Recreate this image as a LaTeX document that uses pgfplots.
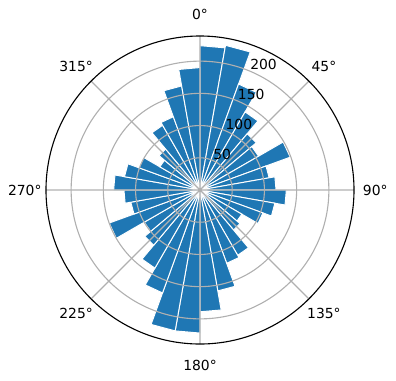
\documentclass[border=0pt]{standalone}
\usepackage{fontspec}
\setmainfont{DejaVu Sans}
\usepackage{pgfplots}
\usepgfplotslibrary{polar}
\pgfplotsset{compat=1.18}
\definecolor{c1}{RGB}{31,119,180}
\definecolor{gridc}{RGB}{176,176,176}
\begin{document}
\begin{tikzpicture}
\useasboundingbox (-144pt,-136.8pt) rectangle (141.12pt,136.8pt);
\begin{polaraxis}[
  at={(0,0)}, anchor=center,
  scale only axis, width=221.76pt, height=221.76pt,
  xmin=0, xmax=360,
  ymin=0, ymax=239,
  xtick={0,45,...,315}, xticklabels={},
  ytick={50,100,150,200}, yticklabels={},
  grid=major, major grid style={draw=gridc, line width=0.8pt},
  x axis line style={line width=0.8pt, black},
  y axis line style={draw=none},
  major tick length=0pt,
  axis on top,
  clip=false,
  wedge/.style={fill=c1, draw=white, line width=0.7pt},
]
% compass sector [c, c+10] drawn at math angles [80-c, 90-c]
\addplot[wedge] coordinates {(80,0) (80,224) (90,224) (90,0)};      % 0
\addplot[wedge] coordinates {(70,0) (70,228) (80,228) (80,0)};      % 10
\addplot[wedge] coordinates {(60,0) (60,175) (70,175) (70,0)};      % 20
\addplot[wedge] coordinates {(50,0) (50,140) (60,140) (60,0)};      % 30
\addplot[wedge] coordinates {(40,0) (40,114) (50,114) (50,0)};      % 40
\addplot[wedge] coordinates {(30,0) (30,105) (40,105) (40,0)};      % 50
\addplot[wedge] coordinates {(20,0) (20,149) (30,149) (30,0)};      % 60
\addplot[wedge] coordinates {(10,0) (10,109) (20,109) (20,0)};      % 70
\addplot[wedge] coordinates {(0,0) (0,118) (10,118) (10,0)};        % 80
\addplot[wedge] coordinates {(-10,0) (-10,134) (0,134) (0,0)};      % 90
\addplot[wedge] coordinates {(-20,0) (-20,118) (-10,118) (-10,0)};  % 100
\addplot[wedge] coordinates {(-30,0) (-30,104) (-20,104) (-20,0)};  % 110
\addplot[wedge] coordinates {(-40,0) (-40,75) (-30,75) (-30,0)};    % 120
\addplot[wedge] coordinates {(-50,0) (-50,81) (-40,81) (-40,0)};    % 130
\addplot[wedge] coordinates {(-60,0) (-60,117) (-50,117) (-50,0)};  % 140
\addplot[wedge] coordinates {(-70,0) (-70,121) (-60,121) (-60,0)};  % 150
\addplot[wedge] coordinates {(-80,0) (-80,159) (-70,159) (-70,0)};  % 160
\addplot[wedge] coordinates {(-90,0) (-90,189) (-80,189) (-80,0)};  % 170
\addplot[wedge] coordinates {(-100,0) (-100,222) (-90,222) (-90,0)};   % 180
\addplot[wedge] coordinates {(-110,0) (-110,222) (-100,222) (-100,0)}; % 190
\addplot[wedge] coordinates {(-120,0) (-120,170) (-110,170) (-110,0)}; % 200
\addplot[wedge] coordinates {(-130,0) (-130,140) (-120,140) (-120,0)}; % 210
\addplot[wedge] coordinates {(-140,0) (-140,112) (-130,112) (-130,0)}; % 220
\addplot[wedge] coordinates {(-150,0) (-150,100) (-140,100) (-140,0)}; % 230
\addplot[wedge] coordinates {(-160,0) (-160,150) (-150,150) (-150,0)}; % 240
\addplot[wedge] coordinates {(-170,0) (-170,109) (-160,109) (-160,0)}; % 250
\addplot[wedge] coordinates {(-180,0) (-180,118) (-170,118) (-170,0)}; % 260
\addplot[wedge] coordinates {(-190,0) (-190,134) (-180,134) (-180,0)}; % 270
\addplot[wedge] coordinates {(-200,0) (-200,119) (-190,119) (-190,0)}; % 280
\addplot[wedge] coordinates {(-210,0) (-210,101) (-200,101) (-200,0)}; % 290
\addplot[wedge] coordinates {(-220,0) (-220,72) (-210,72) (-210,0)};   % 300
\addplot[wedge] coordinates {(-230,0) (-230,83) (-220,83) (-220,0)};   % 310
\addplot[wedge] coordinates {(-240,0) (-240,116) (-230,116) (-230,0)}; % 320
\addplot[wedge] coordinates {(-250,0) (-250,121) (-240,121) (-240,0)}; % 330
\addplot[wedge] coordinates {(-260,0) (-260,164) (-250,164) (-250,0)}; % 340
\addplot[wedge] coordinates {(-270,0) (-270,190) (-260,190) (-260,0)}; % 350
% angular labels
\node[anchor=center] at (axis cs:90,272) {0°};
\node[anchor=center] at (axis cs:45,272) {45°};
\node[anchor=center] at (axis cs:0,272) {90°};
\node[anchor=center] at (axis cs:-45,272) {135°};
\node[anchor=center] at (axis cs:-90,272) {180°};
\node[anchor=center] at (axis cs:-135,272) {225°};
\node[anchor=center] at (axis cs:180,272) {270°};
\node[anchor=center] at (axis cs:135,272) {315°};
% radial labels
\node[anchor=south west, inner sep=0.5pt] at (axis cs:67.5,50) {50};
\node[anchor=south west, inner sep=0.5pt] at (axis cs:67.5,100) {100};
\node[anchor=south west, inner sep=0.5pt] at (axis cs:67.5,150) {150};
\node[anchor=south west, inner sep=0.5pt] at (axis cs:67.5,200) {200};
\end{polaraxis}
\end{tikzpicture}
\end{document}
